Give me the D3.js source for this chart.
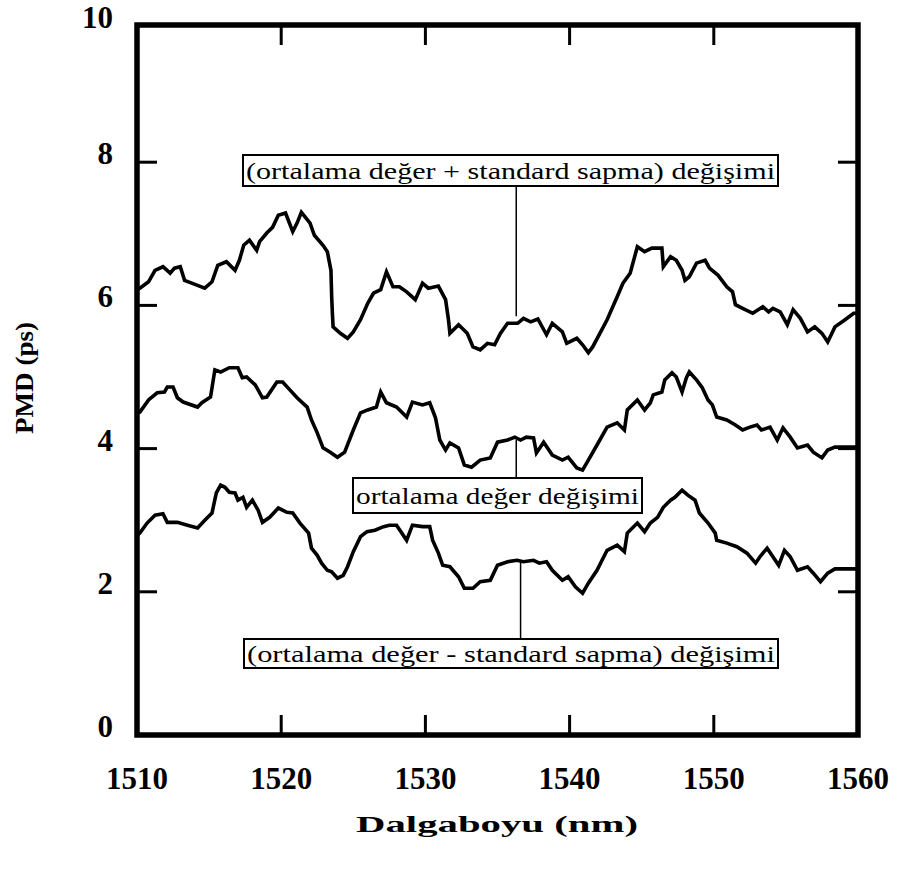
<!DOCTYPE html>
<html><head><meta charset="utf-8">
<script src="https://cdn.jsdelivr.net/npm/d3@7"></script>
<style>body{margin:0;background:#fff}svg{display:block}</style>
</head><body>
<svg id="c" width="897" height="870"></svg>
<script>
// ---- data ----
const xTicks = [1510, 1520, 1530, 1540, 1550, 1560];
const yTicks = [0, 2, 4, 6, 8, 10];
const xTitle = "Dalgaboyu (nm)";
const yTitle = "PMD (ps)";
const labelUpper = "(ortalama değer + standard sapma) değişimi";
const labelMean = "ortalama değer değişimi";
const labelLower = "(ortalama değer - standard sapma) değişimi";

const upperSeries = [
[1510.0,6.22],[1510.2,6.24],[1510.8,6.33],[1511.25,6.49],[1511.8,6.54],[1512.3,6.45],[1512.6,6.52],[1513.0,6.54],[1513.3,6.35],[1514.2,6.28],[1514.7,6.24],[1515.2,6.33],[1515.6,6.56],[1516.2,6.61],[1516.8,6.49],[1517.1,6.63],[1517.4,6.84],[1517.8,6.91],[1518.3,6.77],[1518.5,6.89],[1519.0,7.01],[1519.4,7.09],[1519.8,7.26],[1520.3,7.29],[1520.8,7.03],[1521.1,7.15],[1521.4,7.30],[1522.0,7.15],[1522.3,6.98],[1522.9,6.84],[1523.2,6.75],[1523.45,6.49],[1523.5,6.12],[1523.55,5.89],[1523.6,5.70],[1524.1,5.61],[1524.6,5.54],[1525.0,5.63],[1525.5,5.80],[1526.0,6.03],[1526.4,6.17],[1526.9,6.22],[1527.3,6.47],[1527.75,6.26],[1528.2,6.26],[1528.7,6.19],[1529.3,6.08],[1529.8,6.31],[1530.2,6.24],[1530.9,6.27],[1531.4,6.08],[1531.6,5.80],[1531.7,5.61],[1532.3,5.73],[1532.9,5.61],[1533.3,5.42],[1533.8,5.38],[1534.3,5.47],[1534.8,5.45],[1535.2,5.61],[1535.7,5.75],[1536.4,5.75],[1536.8,5.82],[1537.3,5.77],[1537.8,5.81],[1538.4,5.59],[1538.8,5.75],[1539.5,5.63],[1539.8,5.47],[1540.5,5.54],[1540.9,5.45],[1541.3,5.34],[1541.6,5.42],[1542.1,5.61],[1542.6,5.80],[1543.3,6.12],[1543.7,6.31],[1544.2,6.45],[1544.7,6.82],[1545.2,6.75],[1545.7,6.80],[1546.4,6.80],[1546.5,6.54],[1547.0,6.68],[1547.4,6.63],[1547.8,6.49],[1548.0,6.35],[1548.3,6.40],[1548.8,6.59],[1549.4,6.63],[1549.7,6.52],[1550.3,6.42],[1550.9,6.26],[1551.3,6.19],[1551.5,6.01],[1552.0,5.96],[1552.7,5.89],[1553.4,5.98],[1553.8,5.91],[1554.1,5.96],[1554.6,5.91],[1555.1,5.73],[1555.5,5.94],[1556.0,5.82],[1556.5,5.63],[1557.0,5.70],[1557.5,5.61],[1557.9,5.49],[1558.4,5.70],[1559.1,5.80],[1559.7,5.89],[1560.0,5.89]
];
const meanSeries = [
[1510.0,4.50],[1510.2,4.51],[1510.8,4.68],[1511.4,4.78],[1511.9,4.79],[1512.1,4.86],[1512.5,4.86],[1512.8,4.71],[1513.2,4.65],[1514.2,4.58],[1514.5,4.64],[1515.1,4.72],[1515.4,5.10],[1515.8,5.07],[1516.4,5.13],[1517.0,5.13],[1517.3,4.99],[1517.6,5.00],[1518.2,4.89],[1518.7,4.71],[1519.0,4.72],[1519.7,4.93],[1520.1,4.93],[1520.6,4.82],[1521.1,4.71],[1521.8,4.58],[1522.1,4.40],[1522.5,4.22],[1522.9,4.01],[1523.4,3.95],[1523.9,3.88],[1524.4,3.95],[1525.0,4.26],[1525.5,4.50],[1526.0,4.54],[1526.6,4.58],[1526.9,4.79],[1527.3,4.64],[1528.0,4.58],[1528.7,4.44],[1529.1,4.65],[1529.8,4.61],[1530.3,4.64],[1530.7,4.43],[1531.0,4.12],[1531.4,3.98],[1531.7,4.08],[1532.3,4.01],[1532.7,3.77],[1533.2,3.74],[1533.8,3.84],[1534.5,3.87],[1535.0,4.09],[1535.7,4.12],[1536.2,4.16],[1536.6,4.12],[1537.0,4.16],[1537.5,4.15],[1537.7,3.94],[1538.2,4.09],[1538.8,3.91],[1539.5,3.84],[1539.9,3.88],[1540.5,3.73],[1540.9,3.70],[1541.3,3.84],[1541.9,4.05],[1542.6,4.30],[1543.3,4.36],[1543.8,4.26],[1544.0,4.54],[1544.7,4.68],[1545.2,4.54],[1545.6,4.64],[1545.8,4.75],[1546.4,4.79],[1546.6,4.96],[1547.1,5.06],[1547.4,5.00],[1547.8,4.79],[1548.1,4.99],[1548.3,5.07],[1548.8,4.96],[1549.2,4.85],[1549.6,4.68],[1549.9,4.61],[1550.2,4.44],[1550.9,4.40],[1551.5,4.33],[1552.0,4.26],[1552.5,4.30],[1553.0,4.33],[1553.3,4.26],[1553.9,4.30],[1554.4,4.12],[1554.8,4.29],[1555.3,4.16],[1555.8,4.01],[1556.5,4.05],[1556.9,3.95],[1557.5,3.87],[1557.9,3.98],[1558.4,4.02],[1560.0,4.02]
];
const lowerSeries = [
[1510.0,2.79],[1510.2,2.82],[1510.7,2.96],[1511.25,3.07],[1511.8,3.09],[1512.1,2.97],[1512.8,2.97],[1513.5,2.93],[1514.2,2.89],[1514.7,3.00],[1515.2,3.10],[1515.5,3.38],[1515.8,3.49],[1516.1,3.46],[1516.4,3.39],[1516.8,3.38],[1517.0,3.28],[1517.35,3.32],[1517.6,3.18],[1518.0,3.28],[1518.4,3.14],[1518.7,2.97],[1519.2,3.04],[1519.8,3.17],[1520.4,3.11],[1520.8,3.10],[1521.3,2.96],[1521.9,2.82],[1522.1,2.61],[1522.5,2.51],[1522.8,2.40],[1523.2,2.30],[1523.5,2.28],[1523.9,2.19],[1524.3,2.23],[1524.6,2.35],[1525.0,2.56],[1525.5,2.77],[1525.95,2.84],[1526.5,2.86],[1527.1,2.91],[1527.5,2.93],[1528.0,2.93],[1528.7,2.72],[1529.1,2.93],[1529.8,2.91],[1530.3,2.91],[1530.5,2.72],[1530.9,2.54],[1531.2,2.37],[1531.7,2.35],[1532.3,2.21],[1532.7,2.05],[1533.3,2.05],[1533.8,2.14],[1534.5,2.16],[1535.0,2.37],[1535.7,2.42],[1536.35,2.44],[1536.8,2.42],[1537.5,2.44],[1537.9,2.40],[1538.4,2.42],[1538.8,2.30],[1539.5,2.16],[1539.9,2.21],[1540.4,2.07],[1540.9,1.98],[1541.3,2.12],[1541.9,2.30],[1542.6,2.58],[1543.3,2.65],[1543.8,2.56],[1544.0,2.82],[1544.7,2.96],[1545.2,2.84],[1545.6,2.96],[1546.1,3.04],[1546.5,3.18],[1547.0,3.28],[1547.3,3.32],[1547.8,3.42],[1548.2,3.35],[1548.7,3.28],[1549.0,3.10],[1549.6,2.96],[1550.1,2.82],[1550.2,2.72],[1550.9,2.68],[1551.6,2.63],[1552.3,2.54],[1552.9,2.40],[1553.2,2.49],[1553.7,2.61],[1554.1,2.49],[1554.5,2.37],[1554.9,2.58],[1555.3,2.49],[1555.8,2.30],[1556.5,2.35],[1556.9,2.26],[1557.4,2.14],[1557.9,2.26],[1558.4,2.32],[1560.0,2.32]
];
const annotations = [
  {text: labelUpper, lam: 1536.3, v: 5.85, box: "upper"},
  {text: labelMean, lam: 1536.3, v: 4.12, box: "mean"},
  {text: labelLower, lam: 1536.6, v: 2.42, box: "lower"}
];

// ---- layout ----
const svg = d3.select("#c");
const L = 137, R = 858, B = 735, T = 19, frameTop = 25;
const x = d3.scaleLinear().domain([1510, 1560]).range([L, R]);
const y = d3.scaleLinear().domain([0, 10]).range([B, T]);
const serif = "'Liberation Serif','Times New Roman',serif";

// curves
const line = d3.line().x(d => x(d[0])).y(d => y(d[1]));
[upperSeries, meanSeries, lowerSeries].forEach(s => {
  svg.append("path").attr("d", line(s)).attr("fill", "none")
    .attr("stroke", "#000").attr("stroke-width", 3.6).attr("stroke-linejoin", "miter");
});

// ticks (inward) on all four sides
const tl = 20;
xTicks.slice(1, -1).forEach(t => {
  svg.append("line").attr("x1", x(t)).attr("x2", x(t)).attr("y1", y(0)).attr("y2", y(0) - tl)
    .attr("stroke", "#000").attr("stroke-width", 3);
  svg.append("line").attr("x1", x(t)).attr("x2", x(t)).attr("y1", frameTop).attr("y2", frameTop + tl)
    .attr("stroke", "#000").attr("stroke-width", 3);
});
yTicks.slice(1, -1).forEach(t => {
  svg.append("line").attr("x1", x(1510)).attr("x2", x(1510) + tl).attr("y1", y(t)).attr("y2", y(t))
    .attr("stroke", "#000").attr("stroke-width", 3);
  svg.append("line").attr("x1", x(1560)).attr("x2", x(1560) - tl).attr("y1", y(t)).attr("y2", y(t))
    .attr("stroke", "#000").attr("stroke-width", 3);
});
// frame
svg.append("rect").attr("x", x(1510)).attr("y", frameTop).attr("width", x(1560) - x(1510)).attr("height", y(0) - frameTop)
  .attr("fill", "none").attr("stroke", "#000").attr("stroke-width", 5.5);

// tick labels
xTicks.forEach(t => {
  svg.append("text").attr("x", x(t)).attr("y", 789).attr("text-anchor", "middle")
    .attr("font-family", serif).attr("font-weight", "bold").attr("font-size", 31).text(t);
});
yTicks.forEach(t => {
  svg.append("text").attr("x", 113).attr("y", Math.max(y(t) + 2, frameTop + 3)).attr("text-anchor", "end")
    .attr("font-family", serif).attr("font-weight", "bold").attr("font-size", 31).text(t);
});

// axis titles
svg.append("text").attr("x", 497).attr("y", 832).attr("text-anchor", "middle")
  .attr("font-family", serif).attr("font-weight", "bold").attr("font-size", 24)
  .attr("textLength", 282).attr("lengthAdjust", "spacingAndGlyphs").text(xTitle);
svg.append("text").attr("transform", "translate(33,378) rotate(-90)").attr("text-anchor", "middle")
  .attr("font-family", serif).attr("font-weight", "bold").attr("font-size", 26)
  .attr("textLength", 112).attr("lengthAdjust", "spacingAndGlyphs").text(yTitle);

// annotation boxes
const boxes = {
  upper: {x0: 243, x1: 778, y0: 155, y1: 186},
  mean:  {x0: 353, x1: 642, y0: 478, y1: 513},
  lower: {x0: 244, x1: 778, y0: 639, y1: 668}
};
annotations.forEach(a => {
  const b = boxes[a.box];
  const lx = x(a.lam), ly = y(a.v);
  const edge = ly > b.y1 ? b.y1 : b.y0;
  svg.append("line").attr("x1", lx).attr("x2", lx).attr("y1", edge).attr("y2", ly)
    .attr("stroke", "#000").attr("stroke-width", 1.5);
  svg.append("rect").attr("x", b.x0).attr("y", b.y0).attr("width", b.x1 - b.x0).attr("height", b.y1 - b.y0)
    .attr("fill", "#fff").attr("stroke", "#000").attr("stroke-width", 2);
  svg.append("text").attr("x", (b.x0 + b.x1) / 2).attr("y", (b.y0 + b.y1) / 2 + 8)
    .attr("text-anchor", "middle").attr("font-family", serif).attr("font-size", 24)
    .attr("textLength", b.x1 - b.x0 - 6).attr("lengthAdjust", "spacingAndGlyphs").text(a.text);
});
</script>
</body></html>
